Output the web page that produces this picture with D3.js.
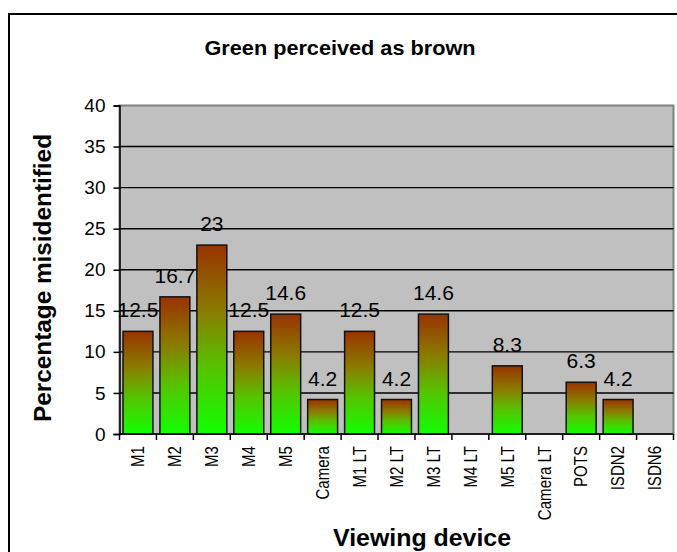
<!DOCTYPE html>
<html><head><meta charset="utf-8">
<script src="https://cdn.jsdelivr.net/npm/d3@7"></script>
<style>body{margin:0;background:#fff;} svg{display:block;font-family:Arial,"Liberation Sans",sans-serif;}</style>
</head><body>
<svg id="c" width="677" height="552"></svg>
<script>
const categories = ["M1","M2","M3","M4","M5","Camera","M1 LT","M2 LT","M3 LT","M4 LT","M5 LT","Camera LT","POTS","ISDN2","ISDN6"];
const values = [12.5,16.7,23,12.5,14.6,4.2,12.5,4.2,14.6,null,8.3,null,6.3,4.2,null];
const yTicks = [0,5,10,15,20,25,30,35,40];
const title = "Green perceived as brown";
const xTitle = "Viewing device";
const yTitle = "Percentage misidentified";

const svg = d3.select("#c");
const L = 119.5, R = 673.5, T = 105.5, B = 434;

// outer chart border
svg.append("rect").attr("x",9).attr("y",14).attr("width",700).attr("height",600)
  .attr("fill","#fff").attr("stroke","#000").attr("stroke-width",2);

const defs = svg.append("defs");
const g = defs.append("linearGradient").attr("id","bg").attr("x1",0).attr("y1",0).attr("x2",0).attr("y2",1);
[[0,"#993300"],[0.35,"#8a7c00"],[0.65,"#55c400"],[1,"#11ff00"]].forEach(s=>g.append("stop").attr("offset",s[0]).attr("stop-color",s[1]));

const x = d3.scaleBand().domain(categories).range([L,R]).paddingInner(0.19).paddingOuter(0.095);
const xb = d3.scaleBand().domain(categories).range([L,R]).padding(0);
const y = d3.scaleLinear().domain([0,40]).range([B,T]);

// plot area
svg.append("rect").attr("x",L).attr("y",T).attr("width",R-L).attr("height",B-T)
  .attr("fill","#c0c0c0").attr("stroke","#808080").attr("stroke-width",2);

// gridlines
svg.append("g").selectAll("line").data(yTicks.filter(d=>d>0&&d<40)).join("line")
  .attr("x1",L).attr("x2",R).attr("y1",d=>y(d)).attr("y2",d=>y(d))
  .attr("stroke","#000").attr("stroke-width",1.4);

// bars
svg.append("g").selectAll("rect").data(categories.map((c,i)=>({c,v:values[i]})).filter(d=>d.v!=null)).join("rect")
  .attr("x",d=>x(d.c)).attr("width",x.bandwidth())
  .attr("y",d=>y(d.v)).attr("height",d=>y(0)-y(d.v))
  .attr("fill","url(#bg)").attr("stroke","#111").attr("stroke-width",1.5);

// data labels
svg.append("g").selectAll("text").data(categories.map((c,i)=>({c,v:values[i]})).filter(d=>d.v!=null)).join("text")
  .attr("x",d=>x(d.c)+x.bandwidth()/2).attr("y",d=>y(d.v)-14)
  .attr("text-anchor","middle").attr("font-size",21).attr("fill","#000")
  .text(d=>d.v);

// y axis
const ya = svg.append("g").attr("transform",`translate(${L},0)`)
  .call(d3.axisLeft(y).tickValues(yTicks).tickSize(6).tickPadding(8));
ya.select(".domain").attr("stroke","#000").attr("stroke-width",1.5);
ya.selectAll(".tick line").attr("stroke","#000").attr("stroke-width",1.5);
ya.selectAll("text").attr("font-size",19).attr("font-family","Arial,'Liberation Sans',sans-serif").attr("fill","#000");

// x axis with ticks at category boundaries
const xa = svg.append("g").attr("transform",`translate(0,${B})`);
xa.append("line").attr("x1",L).attr("x2",R).attr("stroke","#000").attr("stroke-width",1.5);
const bounds = categories.map(c=>xb(c)).concat([R]);
xa.selectAll("line.t").data(bounds).join("line").attr("class","t")
  .attr("x1",d=>d).attr("x2",d=>d).attr("y1",0).attr("y2",6).attr("stroke","#000").attr("stroke-width",1.5);
xa.selectAll("text").data(categories).join("text")
  .attr("transform",d=>`translate(${xb(d)+xb.bandwidth()/2},12) rotate(-90) scale(0.86,1)`)
  .attr("text-anchor","end").attr("dy","0.36em").attr("font-size",17.5).attr("fill","#000")
  .text(d=>d);

// titles
svg.append("text").attr("x",340).attr("y",55).attr("text-anchor","middle")
  .attr("font-size",20).attr("font-weight","bold").attr("textLength",271).attr("lengthAdjust","spacingAndGlyphs").text(title);
svg.append("text").attr("x",422).attr("y",546).attr("text-anchor","middle")
  .attr("font-size",24).attr("font-weight","bold").attr("textLength",178).attr("lengthAdjust","spacingAndGlyphs").text(xTitle);
svg.append("text").attr("transform","translate(51,278) rotate(-90)").attr("text-anchor","middle")
  .attr("font-size",24).attr("font-weight","bold").attr("textLength",288).attr("lengthAdjust","spacingAndGlyphs").text(yTitle);
</script>
</body></html>
